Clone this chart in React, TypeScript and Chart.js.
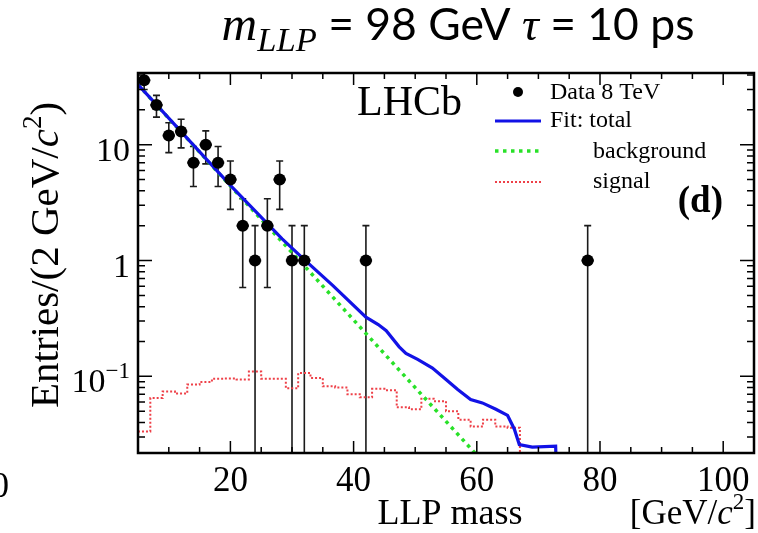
import React, { useEffect, useRef } from 'react';
import { Chart, registerables } from 'chart.js';

Chart.register(...registerables);

// ---------------- data ----------------
// LHCb data (8 TeV), bin centres [GeV/c^2] and entries per 2 GeV bin (empty bins not drawn)
const dataMass = [6, 8, 10, 12, 14, 16, 18, 20, 22, 24, 26, 28, 30, 32, 42, 78];
const dataEntries = [36, 22, 12, 13, 7, 10, 7, 5, 2, 1, 2, 5, 1, 1, 1, 1];
const BIN_W = 2;

// Fit: total
const totalMass = [5, 20, 28.4, 32, 36.6, 42, 44, 45.3, 47.4, 48.5, 50.4, 52.8, 55, 56.9, 59, 60.9, 63.1, 65, 66.1, 66.9, 69, 72.8, 73.2];
const totalValue = [33, 4.45, 1.54, 1.02, 0.61, 0.324, 0.28, 0.248, 0.18, 0.158, 0.14, 0.118, 0.094, 0.077, 0.063, 0.059, 0.052, 0.046, 0.035, 0.0258, 0.0245, 0.025, 0.005];

// Fit: background (exponential)
const bgMass = [5, 20, 32, 50, 62];
const bgValue = [33, 4.4, 0.9, 0.08, 0.016];

// Fit: signal histogram (2 GeV bins)
const sigCenters = [6, 8, 10, 12, 14, 16, 18, 20, 22, 24, 26, 28, 30, 32, 34, 36, 38, 40, 42, 44, 46, 48, 50, 52, 54, 56, 58, 60, 62, 64, 66];
const sigValue = [0.0335, 0.065, 0.074, 0.071, 0.085, 0.0895, 0.0955, 0.096, 0.094, 0.11, 0.0955, 0.0955, 0.079, 0.107, 0.097, 0.082, 0.08, 0.07, 0.066, 0.078, 0.076, 0.054, 0.052, 0.064, 0.061, 0.05, 0.0423, 0.037, 0.0423, 0.037, 0.036];
const EMPTY = 0.001; // an empty bin (below the log axis)

// axes
const X_MIN = 5;
const X_MAX = 105;
const Y_MIN = 0.0218;
const Y_MAX = 41.6;
const xTickValues = [20, 40, 60, 80, 100];
const xTickLabels = ['20', '40', '60', '80', '100'];
const yTickValues = [0.1, 1, 10];
const yTickLabels = ['10^\u22121', '1', '10'];

const legendLabels = ['Data 8 TeV', 'Fit: total', 'background', 'signal'];

// ---------------- styles ----------------
const SERIF = '"Liberation Serif", "Times New Roman", serif';
const SANS = 'Lato, "Open Sans", sans-serif';
const BLUE = 'rgb(18,18,230)';
const GREEN = 'rgb(40,225,40)';
const RED = 'rgb(238,64,72)';

type Seg = { text: string; font: string; dy?: number };

function drawRich(ctx: CanvasRenderingContext2D, segs: Seg[], x: number, y: number, align: 'left' | 'center' | 'right') {
  ctx.textAlign = 'left';
  ctx.textBaseline = 'alphabetic';
  const widths = segs.map((s) => {
    ctx.font = s.font;
    return ctx.measureText(s.text).width;
  });
  const total = widths.reduce((a, b) => a + b, 0);
  let cx = align === 'left' ? x : align === 'center' ? x - total / 2 : x - total;
  segs.forEach((s, i) => {
    ctx.font = s.font;
    ctx.fillText(s.text, cx, y + (s.dy || 0));
    cx += widths[i];
  });
  return total;
}

function tickSegs(label: string, size: number): Seg[] {
  const [base, exp] = label.split('^');
  const segs: Seg[] = [{ text: base, font: `${size}px ${SERIF}` }];
  if (exp) segs.push({ text: exp, font: `${Math.round(size * 0.68)}px ${SERIF}`, dy: -Math.round(size * 0.42) });
  return segs;
}

const rootPlugin = {
  id: 'rootStyle',
  beforeDatasetsDraw(chart: any) {
    const { ctx, chartArea: a, scales } = chart;
    const x = scales.x;
    const y = scales.y;
    ctx.save();
    ctx.beginPath();
    ctx.rect(a.left, a.top, a.right - a.left, a.bottom - a.top);
    ctx.clip();
    ctx.strokeStyle = '#1a1a1a';
    dataMass.forEach((m, i) => {
      const n = dataEntries[i];
      const e = Math.sqrt(n);
      const px = x.getPixelForValue(m);
      const py = y.getPixelForValue(n);
      const hi = y.getPixelForValue(n + e);
      const lo = n - e > 0 ? y.getPixelForValue(n - e) : a.bottom;
      ctx.lineWidth = 1.6;
      ctx.beginPath();
      ctx.moveTo(px, hi);
      ctx.lineTo(px, lo);
      ctx.moveTo(px - 3.5, hi);
      ctx.lineTo(px + 3.5, hi);
      if (n - e > 0) {
        ctx.moveTo(px - 3.5, lo);
        ctx.lineTo(px + 3.5, lo);
      }
      ctx.stroke();
      ctx.lineWidth = 2.4;
      ctx.beginPath();
      ctx.moveTo(x.getPixelForValue(m - BIN_W / 2), py);
      ctx.lineTo(x.getPixelForValue(m + BIN_W / 2), py);
      ctx.stroke();
    });
    ctx.restore();
  },
  afterDraw(chart: any) {
    const { ctx, chartArea: a, scales } = chart;
    const x = scales.x;
    const y = scales.y;
    ctx.save();
    ctx.fillStyle = '#000';
    ctx.strokeStyle = '#000';

    // ticks (inside, mirrored)
    ctx.lineWidth = 1.5;
    ctx.beginPath();
    for (let v = X_MIN + 5; v < X_MAX; v += 5) {
      const px = x.getPixelForValue(v);
      const len = xTickValues.includes(v) ? 12 : 6;
      ctx.moveTo(px, a.bottom);
      ctx.lineTo(px, a.bottom - len);
      ctx.moveTo(px, a.top);
      ctx.lineTo(px, a.top + len);
    }
    for (let d = -2; d <= 1; d++) {
      for (let m = 1; m <= 9; m++) {
        const v = m * Math.pow(10, d);
        if (v <= Y_MIN || v >= Y_MAX) continue;
        const py = y.getPixelForValue(v);
        const len = m === 1 ? 14 : 7;
        ctx.moveTo(a.left, py);
        ctx.lineTo(a.left + len, py);
        ctx.moveTo(a.right, py);
        ctx.lineTo(a.right - len, py);
      }
    }
    ctx.stroke();

    // frame
    ctx.lineWidth = 2.5;
    ctx.strokeRect(a.left, a.top, a.right - a.left, a.bottom - a.top);

    // tick labels
    xTickValues.forEach((v, i) => {
      drawRich(ctx, tickSegs(xTickLabels[i], 35), x.getPixelForValue(v), 491, 'center');
    });
    yTickValues.forEach((v, i) => {
      drawRich(ctx, tickSegs(yTickLabels[i], 34), a.left - 8, y.getPixelForValue(v) + 16, 'right');
    });

    // axis titles
    drawRich(ctx, [{ text: 'LLP mass', font: `36px ${SERIF}` }], 450, 524, 'center');
    drawRich(
      ctx,
      [
        { text: '[GeV/', font: `35px ${SERIF}` },
        { text: 'c', font: `italic 35px ${SERIF}` },
        { text: '2', font: `23px ${SERIF}`, dy: -15 },
        { text: ']', font: `35px ${SERIF}` },
      ],
      756,
      524,
      'right'
    );
    ctx.save();
    ctx.translate(58, 255);
    ctx.rotate(-Math.PI / 2);
    drawRich(
      ctx,
      [
        { text: 'Entries/(2 GeV/', font: `41px ${SERIF}` },
        { text: 'c', font: `italic 41px ${SERIF}` },
        { text: '2', font: `27px ${SERIF}`, dy: -17 },
        { text: ')', font: `41px ${SERIF}` },
      ],
      0,
      0,
      'center'
    );
    ctx.restore();

    // stray glyph from neighbouring panel
    drawRich(ctx, [{ text: '0', font: `35px ${SERIF}` }], 9, 497, 'right');

    // LHCb label and panel tag
    drawRich(ctx, [{ text: 'LHCb', font: `42px ${SERIF}` }], 357, 115, 'left');
    drawRich(ctx, [{ text: '(d)', font: `bold 37px ${SERIF}` }], 723, 212, 'right');

    // legend
    const lf = `24px ${SERIF}`;
    ctx.beginPath();
    ctx.arc(518, 92, 5, 0, Math.PI * 2);
    ctx.fill();
    drawRich(ctx, [{ text: legendLabels[0], font: lf }], 550, 99, 'left');
    ctx.lineCap = 'butt';
    ctx.strokeStyle = BLUE;
    ctx.lineWidth = 3.2;
    ctx.beginPath();
    ctx.moveTo(495, 121);
    ctx.lineTo(541, 121);
    ctx.stroke();
    drawRich(ctx, [{ text: legendLabels[1], font: lf }], 550, 127, 'left');
    ctx.strokeStyle = GREEN;
    ctx.lineWidth = 3.5;
    ctx.setLineDash([3.5, 4.5]);
    ctx.beginPath();
    ctx.moveTo(495, 151);
    ctx.lineTo(541, 151);
    ctx.stroke();
    drawRich(ctx, [{ text: legendLabels[2], font: lf }], 593, 158, 'left');
    ctx.strokeStyle = RED;
    ctx.lineWidth = 2;
    ctx.setLineDash([2, 2]);
    ctx.beginPath();
    ctx.moveTo(495, 182);
    ctx.lineTo(541, 182);
    ctx.stroke();
    ctx.setLineDash([]);
    drawRich(ctx, [{ text: legendLabels[3], font: lf }], 593, 188, 'left');

    // title
    const build = (k: number): Seg[] => [
      { text: 'm', font: `italic ${40 * k}px ${SERIF}` },
      { text: 'LLP', font: `italic ${28 * k}px ${SERIF}`, dy: 9 * k },
      { text: ' = 98 GeV ', font: `${36 * k}px ${SANS}` },
      { text: '\u03C4', font: `italic ${38 * k}px ${SERIF}` },
      { text: ' = 10 ps', font: `${36 * k}px ${SANS}` },
    ];
    ctx.fillStyle = '#000';
    ctx.globalAlpha = 0;
    const w = drawRich(ctx, build(1), 0, -100, 'left');
    ctx.globalAlpha = 1;
    const k = 473 / w;
    drawRich(ctx, build(k), 458, 40, 'center');

    ctx.restore();
  },
};

export default function App() {
  const ref = useRef<HTMLCanvasElement>(null);
  useEffect(() => {
    const canvas = ref.current!;
    const sigPoints = sigCenters.map((c, i) => ({ x: c - BIN_W / 2, y: sigValue[i] }));
    const lastEdge = sigCenters[sigCenters.length - 1] + BIN_W / 2;
    sigPoints.push({ x: lastEdge, y: sigValue[sigValue.length - 1] });
    sigPoints.push({ x: lastEdge, y: EMPTY });

    const chart = new Chart(canvas, {
      type: 'scatter',
      data: {
        datasets: [
          {
            label: legendLabels[0],
            data: dataMass.map((m, i) => ({ x: m, y: dataEntries[i] })),
            pointRadius: 6,
            pointBackgroundColor: '#000',
            pointBorderColor: '#000',
            pointBorderWidth: 0,
            showLine: false,
          } as any,
          {
            type: 'line',
            label: legendLabels[1],
            data: totalMass.map((m, i) => ({ x: m, y: totalValue[i] })),
            borderColor: BLUE,
            borderWidth: 3.2,
            pointRadius: 0,
            tension: 0,
            fill: false,
            clip: 0,
          } as any,
          {
            type: 'line',
            label: legendLabels[2],
            data: bgMass.map((m, i) => ({ x: m, y: bgValue[i] })),
            borderColor: GREEN,
            borderWidth: 3.5,
            borderDash: [3.5, 4.5],
            pointRadius: 0,
            tension: 0,
            fill: false,
            clip: 0,
          } as any,
          {
            type: 'line',
            label: legendLabels[3],
            data: sigPoints,
            borderColor: RED,
            borderWidth: 2,
            borderDash: [2, 2],
            stepped: true,
            pointRadius: 0,
            tension: 0,
            fill: false,
            clip: 0,
          } as any,
        ],
      },
      options: {
        responsive: false,
        animation: false,
        layout: { padding: { left: 138, right: 4, top: 73, bottom: 80 }, autoPadding: false } as any,
        scales: {
          x: { type: 'linear', min: X_MIN, max: X_MAX, display: false },
          y: { type: 'logarithmic', min: Y_MIN, max: Y_MAX, display: false },
        },
        plugins: { legend: { display: false }, tooltip: { enabled: false }, title: { display: false } },
      },
      plugins: [rootPlugin],
    });
    return () => chart.destroy();
  }, []);

  return (
    <div style={{ position: 'fixed', left: 0, top: 0, width: 758, height: 533, background: '#fff' }}>
      <canvas ref={ref} width={758} height={533} style={{ display: 'block', width: 758, height: 533 }} />
    </div>
  );
}
